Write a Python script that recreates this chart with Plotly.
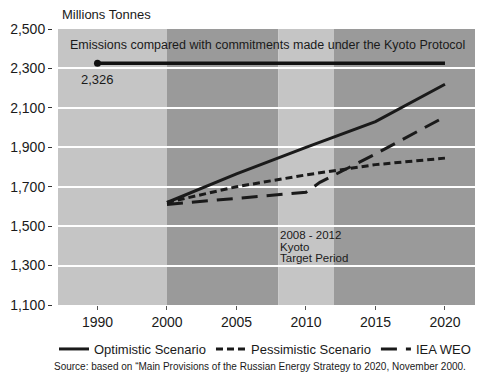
import plotly.graph_objects as go

# ---- data ----
KYOTO_YEARS = [1990, 2020]
KYOTO_VALUES = [2326, 2326]

OPT_YEARS = [2000, 2005, 2010, 2015, 2020]
OPT_VALUES = [1620, 1765, 1900, 2030, 2220]

PESS_YEARS = [2000, 2005, 2010, 2015, 2020]
PESS_VALUES = [1620, 1700, 1760, 1812, 1845]

IEA_YEARS = [2000, 2005, 2010, 2011, 2015, 2020]
IEA_VALUES = [1610, 1640, 1672, 1722, 1866, 2055]

TICK_YEARS = [1990, 2000, 2005, 2010, 2015, 2020]
Y_TICKS = [1100, 1300, 1500, 1700, 1900, 2100, 2300, 2500]

# background periods: (start, end, colour)
LIGHT = "#c5c5c5"
DARK = "#9a9a9a"
PERIODS = [(1992.16, 2000, LIGHT), (2000, 2008, DARK), (2008, 2012, LIGHT), (2012, 2022.16, DARK)]


def pos(year):
    """Broken axis: 1990 is drawn one half-step before 2000."""
    return 1995 if year == 1990 else year


FONT = "Liberation Sans, Arial, Helvetica, sans-serif"
INK = "#1a1a1a"

fig = go.Figure()

fig.add_trace(go.Scatter(
    x=[pos(y) for y in KYOTO_YEARS], y=KYOTO_VALUES, mode="lines",
    line=dict(color="#111111", width=3.5), showlegend=False, hoverinfo="skip"))
fig.add_trace(go.Scatter(
    x=[pos(KYOTO_YEARS[0])], y=[KYOTO_VALUES[0]], mode="markers",
    marker=dict(color="#111111", size=7), showlegend=False, hoverinfo="skip"))

fig.add_trace(go.Scatter(
    x=[pos(y) for y in OPT_YEARS], y=OPT_VALUES, mode="lines", name="Optimistic Scenario",
    line=dict(color=INK, width=3)))
fig.add_trace(go.Scatter(
    x=[pos(y) for y in PESS_YEARS], y=PESS_VALUES, mode="lines", name="Pessimistic Scenario",
    line=dict(color=INK, width=3, dash="7px,4px")))
fig.add_trace(go.Scatter(
    x=[pos(y) for y in IEA_YEARS], y=IEA_VALUES, mode="lines", name="IEA WEO",
    line=dict(color=INK, width=3, dash="16px,9px")))

for x0, x1, col in PERIODS:
    fig.add_shape(type="rect", xref="x", yref="paper", x0=x0, x1=x1, y0=0, y1=1,
                  fillcolor=col, line=dict(width=0), layer="below")

annotations = [
    dict(text="Millions Tonnes", xref="paper", yref="paper", x=0.019, y=1.051,
         xanchor="left", yanchor="middle", showarrow=False,
         font=dict(size=13, color=INK, family=FONT)),
    dict(text="Emissions compared with commitments made under the Kyoto Protocol",
         xref="x", yref="y", x=2007.2, y=2418, xanchor="center", yanchor="middle",
         showarrow=False, font=dict(size=12.5, color=INK, family=FONT)),
    dict(text=f"{KYOTO_VALUES[0]:,}", xref="x", yref="y", x=pos(KYOTO_YEARS[0]), y=KYOTO_VALUES[0],
         yshift=-16, xanchor="center", yanchor="middle", showarrow=False,
         font=dict(size=13, color=INK, family=FONT)),
    dict(text="Source: based on \u201cMain Provisions of the Russian Energy Strategy to 2020, November 2000.",
         xref="paper", yref="paper", x=0, y=-0.2246,
         xanchor="left", yanchor="middle", showarrow=False,
         font=dict(size=10, color=INK, family=FONT)),
]
for i, line in enumerate(["2008 - 2012", "Kyoto", "Target Period"]):
    annotations.append(dict(text=line, xref="x", yref="y", x=2008, y=1455, yshift=-11.7 * i,
                            xanchor="left", yanchor="middle", showarrow=False,
                            font=dict(size=11.5, color=INK, family=FONT)))

fig.update_layout(
    width=490, height=382,
    margin=dict(l=52, r=15, t=29, b=77, autoexpand=False),
    paper_bgcolor="white", plot_bgcolor="white",
    font=dict(family=FONT, color=INK, size=14),
    xaxis=dict(
        domain=[6 / 423, 1], range=[1992.16, 2022.16],
        tickvals=[pos(y) for y in TICK_YEARS], ticktext=[str(y) for y in TICK_YEARS],
        ticks="outside", ticklen=4, tickcolor="#555", showgrid=False, zeroline=False,
        showline=False, tickfont=dict(size=14, color=INK, family=FONT)),
    yaxis=dict(
        anchor="free", position=0, range=[1100, 2500], tickvals=Y_TICKS,
        tickformat=",d", ticks="outside", ticklen=4, tickcolor="#333",
        showgrid=True, gridcolor="white", gridwidth=1.5, zeroline=False, showline=False,
        tickfont=dict(size=14, color=INK, family=FONT)),
    legend=dict(orientation="h", xref="container", yref="container",
                x=54 / 490, y=(382 - 334) / 382, xanchor="left", yanchor="top",
                font=dict(size=13, color=INK, family=FONT), bgcolor="rgba(0,0,0,0)",
                itemwidth=30),
    annotations=annotations,
    showlegend=True,
)

fig.write_html("out.html", config={"displayModeBar": False},
               post_script="document.body.style.margin='0';")
